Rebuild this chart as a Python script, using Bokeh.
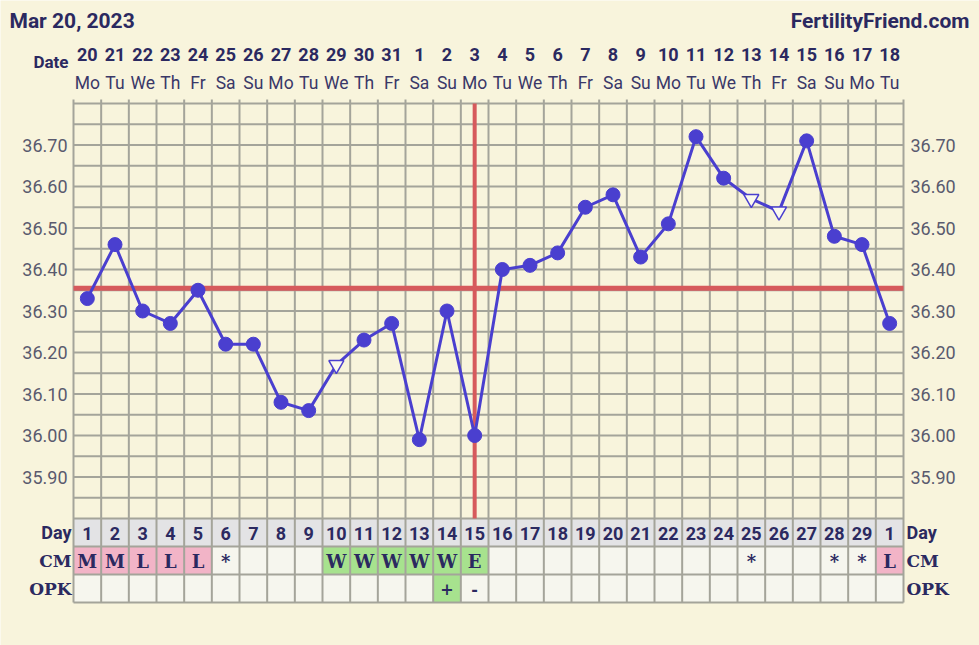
import numpy as np
from bokeh.plotting import figure
from bokeh.models import Range1d
from bokeh.core.properties import value
from bokeh.embed import file_html
from bokeh.resources import INLINE

# ---------------- data ----------------
title_text = "Mar 20, 2023"
site_text = "FertilityFriend.com"
dates = [20, 21, 22, 23, 24, 25, 26, 27, 28, 29, 30, 31, 1, 2, 3, 4, 5, 6, 7, 8,
         9, 10, 11, 12, 13, 14, 15, 16, 17, 18]
weekdays = ["Mo", "Tu", "We", "Th", "Fr", "Sa", "Su"] * 4 + ["Mo", "Tu"]
cycle_days = list(range(1, 30)) + [1]
temps = [36.33, 36.46, 36.30, 36.27, 36.35, 36.22, 36.22, 36.08, 36.06, 36.17,
         36.23, 36.27, 35.99, 36.30, 36.00, 36.40, 36.41, 36.44, 36.55, 36.58,
         36.43, 36.51, 36.72, 36.62, 36.57, 36.54, 36.71, 36.48, 36.46, 36.27]
discarded_days = [10, 25, 26]
coverline = 36.355
ovulation_day = 15
cm = ["M", "M", "L", "L", "L", "*", "", "", "", "W", "W", "W", "W", "W", "E",
      "", "", "", "", "", "", "", "", "", "*", "", "", "*", "*", "L"]
opk = [""] * 13 + ["+", "-"] + [""] * 15
y_ticks = [35.90, 36.00, 36.10, 36.20, 36.30, 36.40, 36.50, 36.60, 36.70]

# ---------------- styling / geometry ----------------
BG = "#f8f4dc"
NAVY = "#2b2960"
GRID = "#a4a49a"
LINE = "#4a3fcf"
RED = "#d65a5c"
PINK = "#f2b4c7"
GREEN = "#a7e28e"
CELL = "#f6f6ee"
DAYCELL = "#e3e3e5"

W, H = 979, 645
OFF = 0                      # page offset
LEFT, RIGHT = 73, 903        # screen x of grid edges
TOP, BOT = 103, 518          # screen y of temperature area
T_MAX, T_MIN = 36.80, 35.80
ROW = 28
N = len(temps)

colw = (RIGHT - LEFT) / N
x0 = 0.5 + (OFF - LEFT) / colw
x1 = 0.5 + (OFF + W - LEFT) / colw
ppd = (BOT - TOP) / (T_MAX - T_MIN)
y1 = T_MAX + (TOP - OFF) / ppd
y0 = T_MIN - (OFF + H - BOT) / ppd

p = figure(width=W, height=H, x_range=Range1d(x0, x1), y_range=Range1d(y0, y1),
           min_border=0, toolbar_location=None, output_backend="svg",
           x_axis_location=None, y_axis_location=None,
           background_fill_color=BG, border_fill_color=BG, outline_line_color=None)
p.grid.visible = False
p.extra_x_ranges = {"sx": Range1d(OFF, OFF + W)}
p.extra_y_ranges = {"sy": Range1d(OFF + H, OFF)}

days = list(range(1, N + 1))

# ---------------- table cells ----------------
def cm_color(c):
    if c in ("M", "L"):
        return PINK
    if c in ("W", "E"):
        return GREEN
    return CELL

def opk_color(c):
    return GREEN if c == "+" else CELL

xl = [d - 0.5 for d in days]
xr = [d + 0.5 for d in days]
p.quad(left=xl, right=xr, top=[BOT] * N, bottom=[BOT + ROW] * N,
       fill_color=DAYCELL, line_color=None, y_range_name="sy")
p.quad(left=xl, right=xr, top=[BOT + ROW] * N, bottom=[BOT + 2 * ROW] * N,
       fill_color=[cm_color(c) for c in cm], line_color=None, y_range_name="sy")
p.quad(left=xl, right=xr, top=[BOT + 2 * ROW] * N, bottom=[BOT + 3 * ROW] * N,
       fill_color=[opk_color(c) for c in opk], line_color=None, y_range_name="sy")

# ---------------- grid ----------------
hy = list(np.round(np.arange(T_MIN, T_MAX + 0.001, 0.05), 2))
p.segment(x0=[0.5] * len(hy), x1=[N + 0.5] * len(hy), y0=hy, y1=hy,
          line_color=GRID, line_width=2)
vx = [d + 0.5 for d in range(0, N + 1)]
p.segment(x0=vx, x1=vx, y0=[TOP - 4] * len(vx), y1=[BOT + 3 * ROW] * len(vx),
          line_color=GRID, line_width=2, y_range_name="sy")
ty = [BOT + ROW, BOT + 2 * ROW, BOT + 3 * ROW]
p.segment(x0=[0.5] * 3, x1=[N + 0.5] * 3, y0=ty, y1=ty,
          line_color=GRID, line_width=2, y_range_name="sy")

# ---------------- coverline & ovulation ----------------
p.segment(x0=[0.5], x1=[N + 0.5], y0=[coverline], y1=[coverline],
          line_color=RED, line_width=5)
p.segment(x0=[ovulation_day], x1=[ovulation_day], y0=[T_MAX], y1=[T_MIN],
          line_color=RED, line_width=4)

# ---------------- temperature line ----------------
p.line(days, temps, line_color=LINE, line_width=3)
keep_x = [d for d in days if d not in discarded_days]
keep_y = [t for d, t in zip(days, temps) if d not in discarded_days]
disc_y = [t for d, t in zip(days, temps) if d in discarded_days]
p.scatter(keep_x, keep_y, marker="circle", size=14, fill_color=LINE, line_color=LINE)
p.scatter(discarded_days, disc_y, marker="inverted_triangle", size=15,
          fill_color="#fbf9ee", line_color=LINE, line_width=1.5)

# ---------------- texts ----------------
SANS = value("Roboto")
SERIF = value("DejaVu Serif")

# y tick labels, left and right
p.text(x=[0.5 - 6 / colw] * len(y_ticks), y=y_ticks, text=[f"{v:.2f}" for v in y_ticks],
       text_font=SANS, text_font_size="18px", text_color="#5a5a6e",
       text_align="right", text_baseline="middle")
p.text(x=[N + 0.5 + 7 / colw] * len(y_ticks), y=y_ticks, text=[f"{v:.2f}" for v in y_ticks],
       text_font=SANS, text_font_size="18px", text_color="#5a5a6e",
       text_align="left", text_baseline="middle")

# header
p.text(x=[9], y=[20], text=[title_text], x_range_name="sx", y_range_name="sy",
       text_font=SANS, text_font_style="bold", text_font_size="21px",
       text_color=NAVY, text_align="left", text_baseline="middle")
p.text(x=[969], y=[20], text=[site_text], x_range_name="sx", y_range_name="sy",
       text_font=SANS, text_font_style="bold", text_font_size="21px",
       text_color=NAVY, text_align="right", text_baseline="middle")
p.text(x=[68], y=[61], text=["Date"], x_range_name="sx", y_range_name="sy",
       text_font=SANS, text_font_style="bold", text_font_size="17px",
       text_color=NAVY, text_align="right", text_baseline="middle")
p.text(x=days, y=[54] * N, text=[str(d) for d in dates], y_range_name="sy",
       text_font=SANS, text_font_style="bold", text_font_size="18px",
       text_color=NAVY, text_align="center", text_baseline="middle")
p.text(x=days, y=[82] * N, text=weekdays, y_range_name="sy",
       text_font=SANS, text_font_size="17.5px",
       text_color="#3a3868", text_align="center", text_baseline="middle")

# table texts
rows_y = [BOT + ROW / 2, BOT + 1.5 * ROW, BOT + 2.5 * ROW]
p.text(x=days, y=[rows_y[0] + 1] * N, text=[str(c) for c in cycle_days], y_range_name="sy",
       text_font=SANS, text_font_style="bold", text_font_size="18px",
       text_color=NAVY, text_align="center", text_baseline="middle")
p.text(x=days, y=[rows_y[1] + 1] * N, text=cm, y_range_name="sy",
       text_font=SERIF, text_font_style="bold", text_font_size="18px",
       text_color=NAVY, text_align="center", text_baseline="middle")
p.text(x=days, y=[rows_y[2]] * N, text=opk, y_range_name="sy",
       text_font=SERIF, text_font_style="bold", text_font_size="16px",
       text_color=NAVY, text_align="center", text_baseline="middle")

row_names = ["Day", "CM", "OPK"]
row_fonts = [SANS, SERIF, SERIF]
row_sizes = ["18px", "17px", "17px"]
for name, yy, f, s in zip(row_names, rows_y, row_fonts, row_sizes):
    p.text(x=[71], y=[yy], text=[name], x_range_name="sx", y_range_name="sy",
           text_font=f, text_font_style="bold", text_font_size=s,
           text_color=NAVY, text_align="right", text_baseline="middle")
    p.text(x=[906], y=[yy], text=[name], x_range_name="sx", y_range_name="sy",
           text_font=f, text_font_style="bold", text_font_size=s,
           text_color=NAVY, text_align="left", text_baseline="middle")

open("out.html", "w").write(file_html(p, INLINE))
